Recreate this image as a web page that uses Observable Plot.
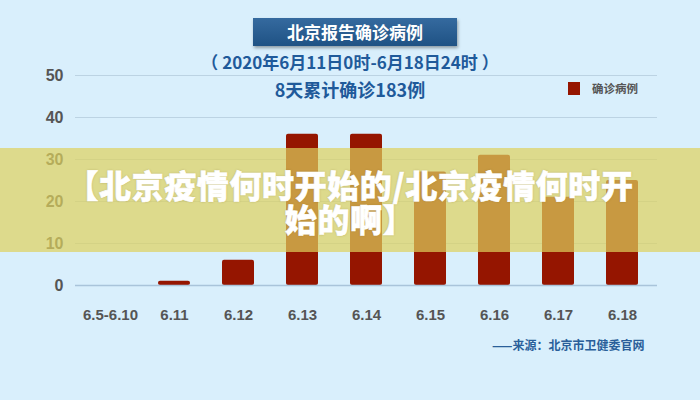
<!DOCTYPE html>
<html><head><meta charset="utf-8">
<script src="https://cdn.jsdelivr.net/npm/d3@7"></script>
<script src="https://cdn.jsdelivr.net/npm/@observablehq/plot@0.6"></script>
<style>
html,body{margin:0;padding:0;background:#d9effc;}
#wrap{position:relative;width:700px;height:400px;overflow:hidden;background:#d9effc;font-family:"Noto Sans CJK SC","Noto Sans",sans-serif;}
#chart{position:absolute;left:0;top:0;}
.abs{position:absolute;white-space:nowrap;}
#title{left:253px;top:18px;width:204px;height:28px;line-height:28px;text-align:center;color:#fff;font-weight:700;font-size:17px;
 background:linear-gradient(#356a9f,#1f5284);box-shadow:1px 2px 3px rgba(0,0,0,0.35);}
#sub{left:0;width:700px;top:50px;text-align:center;color:#1f5a9a;font-weight:700;font-size:17px;line-height:24px;}
#total{left:0;width:700px;top:77px;text-align:center;color:#1f5a9a;font-weight:700;font-size:18px;line-height:24px;}
#legend{left:568px;top:81px;font-size:11.5px;font-weight:700;color:#555;line-height:14px;}
#legend i{display:inline-block;width:12px;height:13px;background:#951500;vertical-align:-2px;margin-right:12px;}
#source{left:492px;top:336px;color:#2a5f9a;font-weight:700;font-size:12px;line-height:18px;}
#band{left:0;top:148px;width:700px;height:104px;background:rgba(222,210,92,0.70);}
.ov{left:0;width:700px;text-align:center;color:#fff;font-weight:900;font-size:32px;line-height:32px;letter-spacing:0.6px;
 -webkit-text-stroke:0.6px #fff;text-shadow:0 0 2px rgba(120,100,40,0.5);}
#ov1{top:168px;}
#ov2{top:202px;}
</style></head>
<body>
<div id="wrap">
  <div id="chart"></div>
  <div class="abs" id="title">北京报告确诊病例</div>
  <div class="abs" id="sub">（ 2020年6月11日0时-6月18日24时 ）</div>
  <div class="abs" id="total">8天累计确诊183例</div>
  <div class="abs" id="legend"><i></i>确诊病例</div>
  <div class="abs" id="source">——来源：北京市卫健委官网</div>
  <div class="abs" id="band"></div>
  <div class="abs ov" id="ov1">【北京疫情何时开始的/北京疫情何时开</div>
  <div class="abs ov" id="ov2">始的啊】</div>
</div>
<script>
const dates = ["6.5-6.10","6.11","6.12","6.13","6.14","6.15","6.16","6.17","6.18"];
const cases = [0,1,6,36,36,27,31,21,25];
const yTicks = [0,10,20,30,40,50];

const data = dates.map((d,i)=>({date:d, value:cases[i]}));

const chart = Plot.plot({
  width:700, height:400,
  marginTop:75, marginBottom:115, marginLeft:75, marginRight:43,
  style:{background:"transparent", fontFamily:"'Liberation Sans Narrow','Liberation Sans',Arial,sans-serif", fontWeight:"700", fontSize:"15px", color:"#555"},
  x:{domain:dates, paddingInner:0.5, paddingOuter:0.25, label:null},
  y:{domain:[0,50], label:null},
  marks:[
    Plot.ruleY(yTicks.slice(1), {stroke:"#bcd3e3", strokeWidth:1}),
    Plot.ruleX([0], {frameAnchor:"left", y1:0, y2:50, stroke:"#bcd3e3"}),
    Plot.barY(data, {x:"date", y:"value", fill:"#951500", rx:2}),
    Plot.ruleY([0], {stroke:"#a9c4da", strokeWidth:1.5}),
    Plot.axisY({ticks:yTicks, tickSize:0, tickPadding:12, fontSize:16, fill:"#555"}),
    Plot.axisX({tickSize:0, tickPadding:24, fontSize:15, fill:"#555"})
  ]
});
document.getElementById("chart").appendChild(chart);
</script>
</body></html>
